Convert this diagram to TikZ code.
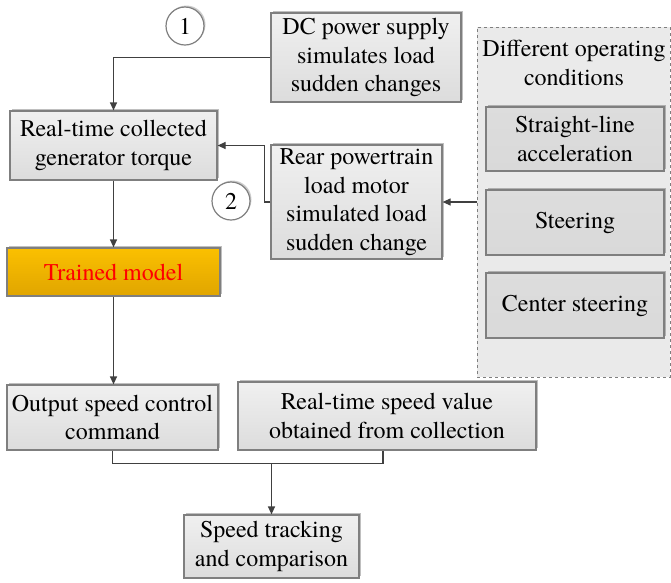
\documentclass[tikz,border=0pt]{standalone}
\usepackage{fontspec}
\setmainfont{TeX Gyre Termes}
\usetikzlibrary{arrows.meta,shadows,calc}
\definecolor{boxtop}{HTML}{F0F0F0}
\definecolor{boxbot}{HTML}{DCDCDC}
\definecolor{inbox}{HTML}{D9D9D9}
\definecolor{edgegray}{HTML}{7F7F7F}
\definecolor{linegray}{HTML}{404040}
\definecolor{goldtop}{HTML}{FBC000}
\definecolor{goldbot}{HTML}{E0A500}
\tikzset{
  txt/.style={font=\rmfamily\fontsize{24}{28.5}\selectfont, align=center, text=black},
  graybox/.style={txt, draw=edgegray, line width=1.2pt, top color=boxtop, bottom color=boxbot, inner sep=0pt,
    drop shadow={shadow xshift=2pt, shadow yshift=2pt, opacity=0.25, fill=black}},
  innerbox/.style={graybox, top color=inbox!90!white, bottom color=inbox},
  goldbox/.style={graybox, top color=goldtop, bottom color=goldbot, text=red},
  numcirc/.style={circle, draw=edgegray, line width=1.2pt, fill=white, minimum size=38pt, inner sep=0pt,
    font=\rmfamily\fontsize{24}{27}\selectfont,
    drop shadow={shadow xshift=1.5pt, shadow yshift=1.5pt, opacity=0.2, fill=black}},
  conn/.style={draw=linegray, line width=1.2pt},
  arr/.style={conn, -{Triangle[length=8pt,width=7pt]}},
}
\begin{document}
\begin{tikzpicture}[x=1pt,y=-1pt]
\useasboundingbox (0,0) rectangle (671,582);
% dashed group
\node[draw=edgegray, dashed, line width=1pt, fill=boxtop!95!gray, minimum width=193pt, minimum height=350pt, inner sep=0pt] (grp) at (573.5,202) {};
\node[txt] (grptitle) at (574,63) {Different operating\\conditions};
\node[innerbox, minimum width=178pt, minimum height=64pt] (sl) at (575,139) {Straight-line\\acceleration};
\node[innerbox, minimum width=178pt, minimum height=65pt] (st) at (575,222.5) {Steering};
\node[innerbox, minimum width=178pt, minimum height=65pt] (cs) at (575,305.5) {Center steering};

\node[graybox, minimum width=190pt, minimum height=89pt] (dc) at (366,57.5) {DC power supply\\simulates load\\sudden changes};
\node[graybox, minimum width=207pt, minimum height=69pt] (rt) at (113.5,145.5) {Real-time collected\\generator torque};
\node[graybox, minimum width=171pt, minimum height=114pt] (rear) at (356.5,202) {Rear powertrain\\load motor\\simulated load\\sudden change};
\node[goldbox, minimum width=213pt, minimum height=48pt] (tm) at (113.5,272) {Trained model};
\node[graybox, minimum width=211pt, minimum height=65pt] (out) at (112.5,417.5) {Output speed control\\command};
\node[graybox, minimum width=298pt, minimum height=68pt] (rsv) at (387,416) {Real-time speed value\\obtained from collection};
\node[graybox, minimum width=175pt, minimum height=63pt] (spd) at (271.5,546.5) {Speed tracking\\and comparison};

\node[numcirc] (c1) at (185,26) {1};
\node[numcirc] (c2) at (231,201) {2};

\draw[arr] (dc.west) -| (rt.north);
\draw[arr] (rear.west) -- ++(-6,0) |- (rt.east);
\draw[arr] (grp.west) -- (rear.east);
\draw[arr] (rt.south) -- (tm.north);
\draw[arr] (tm.south) -- (tm.south |- out.north);
\coordinate (j) at ($(spd.north)+(0,-51)$);
\draw[conn] (out.south) -- (out.south |- j) -- ($(rsv.south |- j)+(-4,0)$) -- ($(rsv.south)+(-4,0)$);
\draw[arr] (j) -- (spd.north);
\end{tikzpicture}
\end{document}
